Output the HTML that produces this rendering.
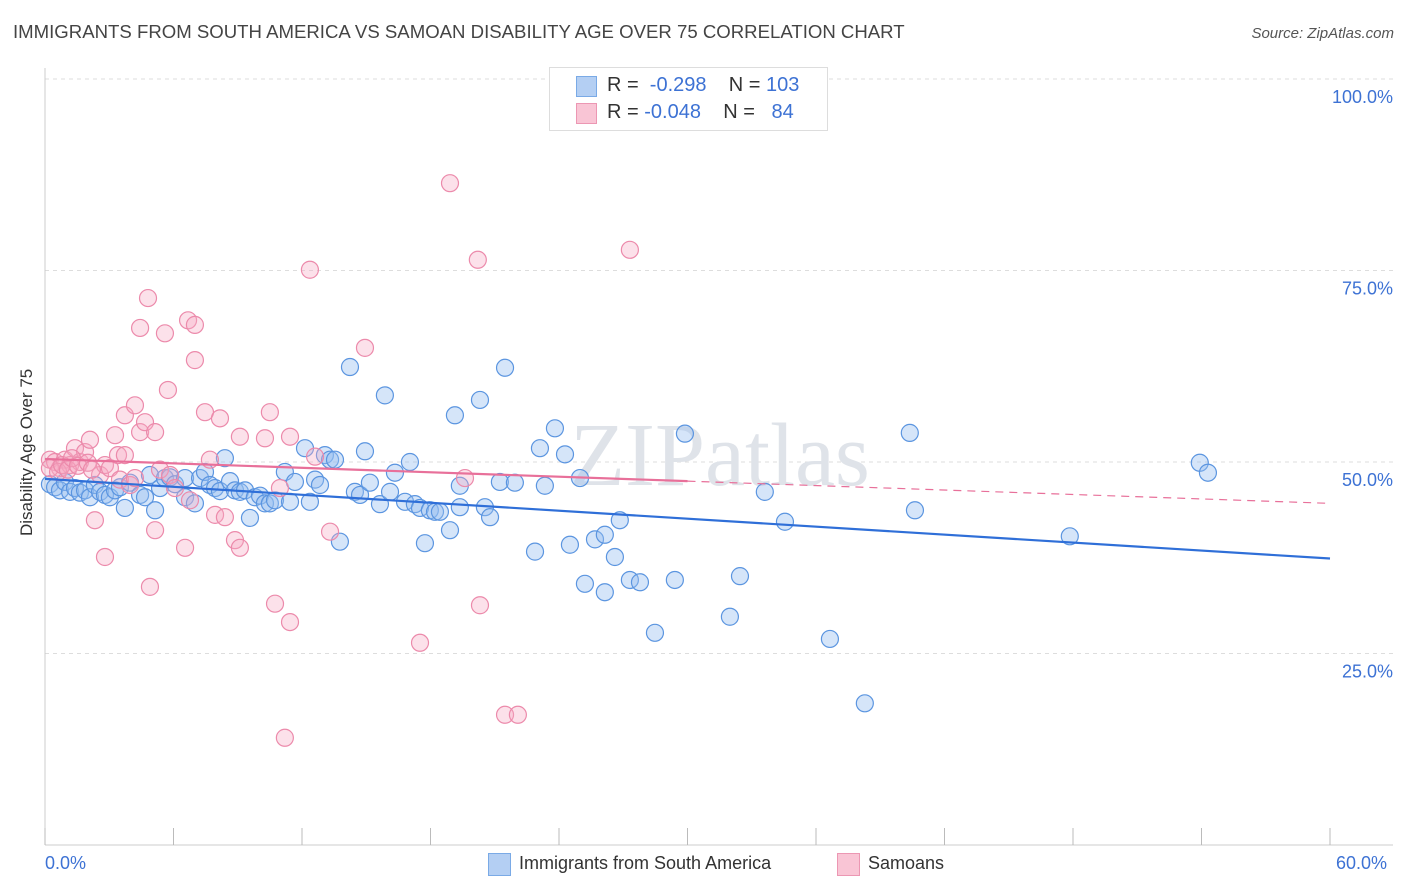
<!DOCTYPE html>
<html><head><meta charset="utf-8"><style>
body{margin:0;background:#fff;font-family:"Liberation Sans",sans-serif;}
#wrap{position:relative;width:1406px;height:892px;overflow:hidden;}
.t{position:absolute;white-space:nowrap;}
</style></head><body>
<div id="wrap">
<div class="t" style="left:13px;top:21px;font-size:18.6px;color:#444;">IMMIGRANTS FROM SOUTH AMERICA VS SAMOAN DISABILITY AGE OVER 75 CORRELATION CHART</div>
<div class="t" style="right:12px;top:25px;font-size:15px;color:#555;font-style:italic;">Source: ZipAtlas.com</div>
<div class="t" style="left:-53px;top:446px;transform:rotate(-90deg);font-size:17px;color:#333;width:160px;text-align:center;">Disability Age Over 75</div>
<svg id="plot" width="1406" height="892" style="position:absolute;left:0;top:0"></svg>
<div style="position:absolute;left:549px;top:67px;width:277px;height:62px;border:1px solid #ddd;background:#fff;"></div>
<div style="position:absolute;left:576px;top:76px;width:19px;height:19px;background:#b4cff3;border:1px solid #7aaae6;"></div>
<div style="position:absolute;left:576px;top:103px;width:19px;height:19px;background:#f9c5d5;border:1px solid #ec97b3;"></div>
<div class="t" style="left:607px;top:74px;font-size:20px;color:#333;">R = &nbsp;<span style="color:#3d72d4">-0.298</span>&nbsp;&nbsp;&nbsp; N = <span style="color:#3d72d4">103</span></div>
<div class="t" style="left:607px;top:101px;font-size:20px;color:#333;">R = <span style="color:#3d72d4">-0.048</span>&nbsp;&nbsp;&nbsp; N = &nbsp;&nbsp;<span style="color:#3d72d4">84</span></div>
<div class="t" style="left:45px;top:853px;font-size:18px;color:#3d72d4;">0.0%</div>
<div class="t" style="left:1336px;top:853px;font-size:18px;color:#3d72d4;">60.0%</div>
<div style="position:absolute;left:488px;top:853px;width:21px;height:21px;background:#b4cff3;border:1px solid #7aaae6;"></div>
<div class="t" style="left:519px;top:853px;font-size:18px;color:#333;">Immigrants from South America</div>
<div style="position:absolute;left:837px;top:853px;width:21px;height:21px;background:#f9c5d5;border:1px solid #ec97b3;"></div>
<div class="t" style="left:868px;top:853px;font-size:18px;color:#333;">Samoans</div>
</div>
<script>
const yTicks=[25,50,75,100];
const yTickLabels=["25.0%","50.0%","75.0%","100.0%"];
const xTicks=[0,6,12,18,24,30,36,42,48,54,60];
const blueX=[0.23,0.47,0.70,0.93,1.17,1.40,1.63,1.87,2.10,2.33,2.57,2.80,3.03,3.27,3.50,3.73,3.97,4.44,4.67,4.90,5.14,5.37,5.60,5.84,6.07,6.54,6.54,7.00,7.24,7.47,7.70,7.94,8.17,8.40,8.64,8.87,9.10,9.34,9.57,9.80,10.04,10.27,10.50,10.74,11.20,11.44,11.67,12.14,12.37,12.61,12.84,13.07,13.31,13.54,13.77,14.24,14.47,14.71,14.94,15.17,15.64,15.87,16.11,16.34,16.81,17.04,17.27,17.51,17.74,17.97,18.21,18.44,18.91,19.14,19.37,19.37,20.31,20.54,20.78,21.24,21.48,21.94,22.88,23.11,23.34,23.81,24.28,24.51,24.98,25.21,25.68,26.14,26.14,26.61,26.84,27.31,27.78,28.48,29.41,29.88,31.98,32.45,33.61,34.55,36.65,38.28,40.38,40.62,47.85,53.92,54.30];
const blueY=[47.1,46.7,46.3,47.4,46.1,46.6,46.0,46.3,45.4,47.0,46.1,45.7,45.4,46.3,46.7,44.0,47.3,45.7,45.4,48.3,43.7,46.6,47.9,48.0,47.1,47.9,45.4,44.6,47.9,48.7,47.0,46.6,46.2,50.5,47.5,46.3,46.1,46.3,42.7,45.4,45.6,44.6,44.6,45.0,48.7,44.8,47.4,51.8,44.8,47.7,47.0,50.9,50.3,50.3,39.6,62.4,46.1,45.7,51.4,47.3,44.5,58.7,46.1,48.6,44.8,50.0,44.5,44.0,39.4,43.7,43.5,43.5,41.1,56.1,46.9,44.1,58.1,44.1,42.8,47.4,62.3,47.3,38.3,51.8,46.9,54.4,51.0,39.2,47.9,34.1,39.9,33.0,40.5,37.6,42.4,34.6,34.3,27.7,34.6,53.7,29.8,35.1,46.1,42.2,26.9,18.5,53.8,43.7,40.3,49.9,48.6];
const pinkX=[0.23,0.47,0.70,0.93,1.17,1.40,1.63,1.87,2.10,2.33,2.57,2.80,2.80,3.03,3.27,3.41,3.50,3.73,3.73,3.97,4.20,4.20,4.44,4.44,4.67,4.81,4.90,5.14,5.14,5.37,5.60,5.74,5.84,6.07,6.54,6.68,6.77,7.00,7.00,7.47,7.70,7.94,8.17,8.40,8.87,9.10,9.10,10.27,10.50,10.74,10.97,11.20,11.44,11.44,12.37,12.61,13.31,14.94,17.51,18.91,19.61,20.21,20.31,21.48,22.08,27.31,0.23,0.61,0.80,1.07,1.26,1.54,2.00,2.19];
const pinkY=[50.3,50.0,49.2,50.3,49.6,51.8,50.0,51.3,52.9,42.4,48.3,37.6,49.6,49.2,53.5,50.9,47.7,56.1,50.9,47.0,57.4,47.9,67.5,53.9,55.2,71.4,33.7,41.1,53.9,49.0,66.8,59.4,48.3,46.6,38.8,68.5,45.0,67.9,63.3,56.5,50.3,43.1,55.7,42.8,39.8,53.3,38.8,53.1,56.5,31.5,46.6,14.0,29.1,53.3,75.1,50.7,40.9,64.9,26.4,86.4,47.9,76.4,31.3,17.0,17.0,77.7,49.2,48.7,49.6,49.0,50.5,49.5,49.9,49.0];
const blueTrend=[47.8,37.4];
const pinkTrend=[50.4,47.5,44.6];

const NS="http://www.w3.org/2000/svg";
const svg=document.getElementById('plot');
const X0=45,X1=1330,Y0=845,Y100=79;
const sx=v=>X0+(v/60)*(X1-X0);
const sy=v=>Y0-(v/100)*(Y0-Y100);
function mk(t,a){const e=document.createElementNS(NS,t);for(const k in a)e.setAttribute(k,a[k]);svg.appendChild(e);return e;}
yTicks.forEach((t,i)=>{
  const g=mk('line',{x1:X0,x2:1393,y1:sy(t),y2:sy(t),stroke:'#ddd','stroke-dasharray':'4,4'});
  
  
  const tx=mk('text',{x:1393,y:sy(t)+24,'text-anchor':'end','font-size':18,fill:'#3d72d4','font-family':'Liberation Sans, sans-serif'});
  tx.textContent=yTickLabels[i];
  
  
});
const ax=mk('line',{x1:X0,x2:X0,y1:68,y2:Y0,stroke:'#ccc'});


const bx=mk('line',{x1:X0,x2:1393,y1:Y0,y2:Y0,stroke:'#ccc'});


xTicks.forEach(t=>{
  const l=mk('line',{x1:sx(t),x2:sx(t),y1:828,y2:Y0,stroke:'#bbb'});
  
  
});
const wm=mk('text',{x:720,y:485,'text-anchor':'middle','font-size':90,fill:'#dfe3e9','font-family':'Liberation Serif, serif'});
wm.textContent='ZIPatlas';


blueX.forEach((x,i)=>{
  const c=mk('circle',{cx:sx(x),cy:sy(blueY[i]),r:8.5,fill:'rgba(150,190,240,0.4)',stroke:'#5b95e0','stroke-width':1.2});
  
  
});
pinkX.forEach((x,i)=>{
  const c=mk('circle',{cx:sx(x),cy:sy(pinkY[i]),r:8.5,fill:'rgba(245,170,195,0.35)',stroke:'#ec8aab','stroke-width':1.2});
  
  
});
const bt=mk('line',{x1:sx(0),y1:sy(blueTrend[0]),x2:sx(60),y2:sy(blueTrend[1]),stroke:'#2f6fd8','stroke-width':2.2});


const pt=mk('line',{x1:sx(0),y1:sy(pinkTrend[0]),x2:sx(30),y2:sy(pinkTrend[1]),stroke:'#e8709a','stroke-width':2.2});


const pd=mk('line',{x1:sx(30),y1:sy(pinkTrend[1]),x2:sx(60),y2:sy(pinkTrend[2]),stroke:'#e8709a','stroke-width':1.2,'stroke-dasharray':'8,6'});


</script>
</body></html>
